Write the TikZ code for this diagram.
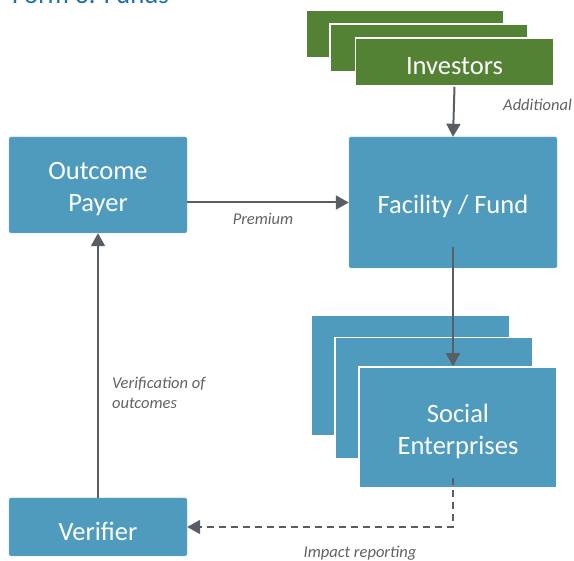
\documentclass[tikz,border=0pt]{standalone}
\usepackage{fontspec}
\setmainfont{Carlito}
\usetikzlibrary{positioning, arrows.meta, calc}
\definecolor{boxblue}{HTML}{4F9BBD}
\definecolor{investgreen}{HTML}{548235}
\definecolor{linegray}{HTML}{595E66}
\definecolor{labelgray}{HTML}{5F6366}
\definecolor{titleblue}{HTML}{1F6FA8}
\tikzset{
x=1pt, y=-1pt, % one unit is one pixel of the layout, y runs down
flow/.style={draw=linegray, line width=2pt, -{Triangle[width=14pt, length=13pt]}}, % the solid arrows
report/.style={flow, dash pattern=on 7pt off 5pt}, % the dashed arrow
boxtext/.style={text=white, align=center, inner sep=0pt, yshift=-4pt, font=\fontsize{26.5}{32}\selectfont}, % white words in the boxes
block/.style={fill=boxblue, draw=boxblue!70!white, rounded corners=1.5pt, inner sep=0pt}, % single boxes
layer/.style={block, draw=white, line width=1.5pt, rounded corners=0pt, minimum width=198pt}, % stacked boxes
greenlayer/.style={layer, fill=investgreen, minimum height=48pt}, % investors stack
bluelayer/.style={layer, minimum height=121pt}, % enterprises stack
lbl/.style={text=labelgray, font=\fontsize{16.5}{20}\selectfont\itshape, inner sep=0pt}, % arrow labels
}
\begin{document}
\begin{tikzpicture}
\useasboundingbox (0,0) rectangle (574,561);
\clip (0,0) rectangle (574,561);
\node[anchor=base west, text=titleblue, font=\fontsize{26.8}{32}\selectfont, inner sep=0pt] (title) at (12,4) {Form 3: Funds};
% investors
\node[greenlayer] (inv3) at (405,34) {};
\node[greenlayer] (inv2) at (429,48) {};
\node[greenlayer, label={[boxtext]center:Investors}] (inv) at (454.5,62) {};
% main boxes
\node[block, minimum width=178pt, minimum height=96pt, label={[boxtext]center:{Outcome\\Payer}}] (payer) at (98,185) {};
\node[block, minimum width=208pt, minimum height=131pt, label={[boxtext]center:{Facility / Fund}}] (fund) at (453,202.5) {};
\node[block, minimum width=178pt, minimum height=58pt, label={[boxtext]center:Verifier}] (verifier) at (98,527) {};
% social enterprises
\node[bluelayer] (se3) at (410.5,375.5) {};
\node[bluelayer] (se2) at (434,398) {};
\node[bluelayer, label={[boxtext]center:{Social\\Enterprises}}] (se) at (458,427.5) {};
% connectors
\draw[flow] (inv.south) -- (fund.north);
\draw[flow] (payer.east |- fund.west) -- (fund.west);
\draw[flow, shorten <=-21pt] (fund.south) -- (fund.south |- se.north);
\draw[report, shorten <=-11pt] (fund.south |- se.south) |- (verifier.east);
\draw[flow] (verifier.north) -- (payer.south);
% labels
\node[lbl, anchor=west] (addl) at (503,105) {Additional};
\node[lbl] (prem) at (263,219) {Premium};
\node[lbl, anchor=north west, align=left, font=\fontsize{16.5}{20}\selectfont\itshape] (verif) at (112,377) {Verification of\\outcomes};
\node[lbl] (impact) at (360,553) {Impact reporting};
\end{tikzpicture}
\end{document}
